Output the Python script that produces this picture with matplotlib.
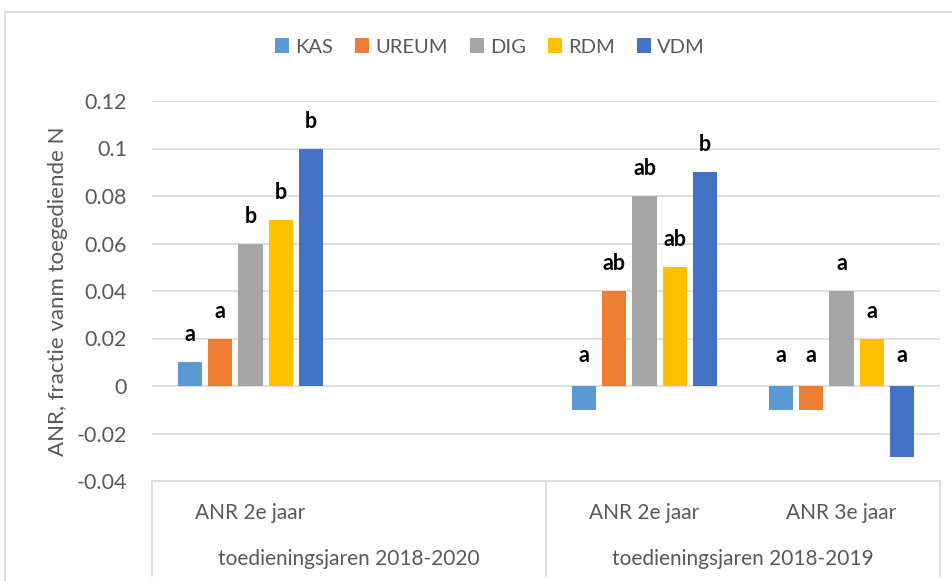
import numpy as np
import matplotlib.pyplot as plt
from matplotlib.patches import Rectangle, Patch
from matplotlib.lines import Line2D
import matplotlib.transforms as mtransforms

plt.rcParams['font.family'] = ['Lato', 'DejaVu Sans']

series = ["KAS", "UREUM", "DIG", "RDM", "VDM"]
colors = ["#5B9BD5", "#ED7D31", "#A5A5A5", "#FFC000", "#4472C4"]
categories = ["ANR 2e jaar", "", "ANR 2e jaar", "ANR 3e jaar"]
groups = ["toedieningsjaren 2018-2020", "toedieningsjaren 2018-2019"]

kas = [0.01, np.nan, -0.01, -0.01]
ureum = [0.02, np.nan, 0.04, -0.01]
dig = [0.06, np.nan, 0.08, 0.04]
rdm = [0.07, np.nan, 0.05, 0.02]
vdm = [0.10, np.nan, 0.09, -0.03]

kas_lbl = ["a", "", "a", "a"]
ureum_lbl = ["a", "", "ab", "a"]
dig_lbl = ["b", "", "ab", "a"]
rdm_lbl = ["b", "", "ab", "a"]
vdm_lbl = ["b", "", "b", "a"]

values = [kas, ureum, dig, rdm, vdm]
letters = [kas_lbl, ureum_lbl, dig_lbl, rdm_lbl, vdm_lbl]

fig = plt.figure(figsize=(9.52, 5.81), dpi=100)
ax = fig.add_axes([152 / 952, 1 - 481 / 581, 788 / 952, 380 / 581])

# chart frame
fig.patches.append(Rectangle((5 / 952, -0.1), 1.2, (581 - 12) / 581 + 0.1,
                             transform=fig.transFigure, fill=False,
                             edgecolor="#D9D9D9", linewidth=1.2, zorder=0))

x = np.arange(len(categories))
step = 0.153
width = 0.122
for i, (vals, lbls, c) in enumerate(zip(values, letters, colors)):
    xs = x + (i - 2) * step
    ax.bar(xs, vals, width=width, color=c, zorder=3)
    for xi, v, t in zip(xs, vals, lbls):
        if not t:
            continue
        y = v + 0.0115 if v > 0 else 0.013
        ax.text(xi, y, t, ha="center", va="center", fontsize=15.5,
                fontweight="bold", color="black")

ax.set_xlim(-0.5, 3.5)
ax.set_ylim(-0.04, 0.12)
ax.set_yticks(np.arange(-0.04, 0.121, 0.02))
ax.set_yticklabels(["-0.04", "-0.02", "0", "0.02", "0.04", "0.06", "0.08", "0.1", "0.12"])
ax.tick_params(axis="y", length=0, pad=18, labelsize=15.5, labelcolor="#595959")
ax.tick_params(axis="x", length=0, labelbottom=False)
ax.grid(axis="y", color="#D9D9D9", linewidth=1.2, zorder=0)
for s in ax.spines.values():
    s.set_visible(False)

ax.set_ylabel("ANR, fractie vanm toegediende N", fontsize=16, color="#595959")
ax.yaxis.set_label_coords(-0.106, 0.5)

# category axis box
trans = mtransforms.blended_transform_factory(ax.transData, ax.transAxes)
ax.add_line(Line2D([-0.5, 3.5], [0, 0], transform=trans, color="#D9D9D9",
                   linewidth=1.2, clip_on=False))
for xv in [-0.5, 1.5, 3.5]:
    ax.add_line(Line2D([xv, xv], [0, -0.25], transform=trans, color="#D9D9D9",
                       linewidth=1.2, clip_on=False))
for xi, cat in zip(x, categories):
    ax.text(xi, -0.084, cat, transform=trans, ha="center", va="center",
            fontsize=15, color="#595959")
for xg, g in zip([0.5, 2.5], groups):
    ax.text(xg, -0.205, g, transform=trans, ha="center", va="center",
            fontsize=15, color="#595959")

handles = [Patch(facecolor=c, label=s) for s, c in zip(series, colors)]
fig.legend(handles=handles, loc="center", bbox_to_anchor=(490 / 952, 1 - 47 / 581),
           ncol=5, frameon=False, fontsize=14.5, handlelength=0.7, handleheight=0.7,
           handletextpad=0.3, columnspacing=1.1, labelcolor="#595959")

fig.savefig("out.png", dpi=100)
